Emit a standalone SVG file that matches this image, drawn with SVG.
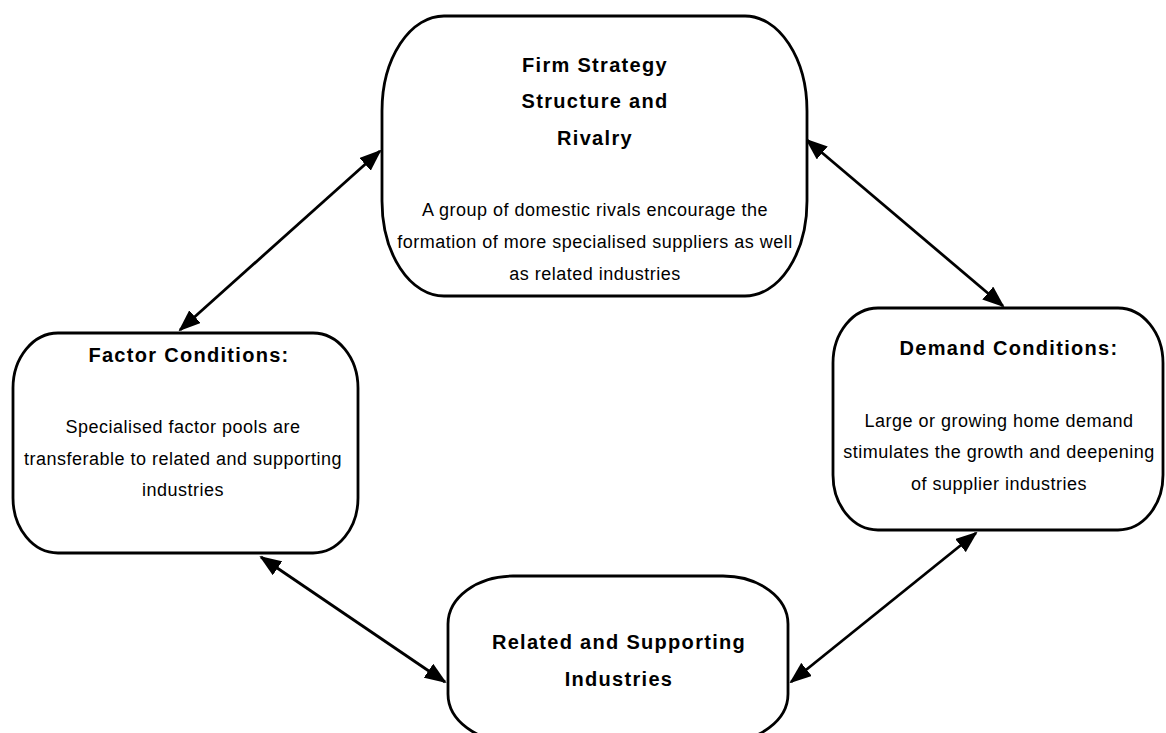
<svg xmlns="http://www.w3.org/2000/svg" width="1166" height="733" viewBox="0 0 1166 733">
  <style>
    .box { fill: #ffffff; stroke: #000000; stroke-width: 2.8; }
    .title { font-family: "Liberation Sans", Arial, sans-serif; font-weight: bold; font-size: 20px; letter-spacing: 1.3px; fill: #000000; text-anchor: middle; }
    .body { font-family: "Liberation Sans", Arial, sans-serif; font-size: 18px; letter-spacing: 0.5px; fill: #000000; text-anchor: middle; }
    .conn { stroke: #000000; stroke-width: 2.8; fill: none; marker-start: url(#arrow); marker-end: url(#arrow); }
  </style>
  <defs>
    <marker id="arrow" markerUnits="userSpaceOnUse" markerWidth="22" markerHeight="17" refX="20" refY="8.5" orient="auto-start-reverse" viewBox="0 0 22 17">
      <path d="M0,0 L22,8.5 L0,17 Z" fill="#000000"/>
    </marker>
  </defs>
  <rect width="1166" height="733" fill="#ffffff"/>

  <g id="connectors">
    <line class="conn" x1="180" y1="330" x2="380" y2="151"/>
    <line class="conn" x1="807" y1="140" x2="1003" y2="306"/>
    <line class="conn" x1="261" y1="557" x2="445" y2="682"/>
    <line class="conn" x1="976" y1="533" x2="791" y2="682"/>
  </g>

  <g id="node-firm">
    <rect class="box" x="382" y="16" width="425" height="280" rx="62" ry="95"/>
    <text class="title" x="595" y="72">Firm Strategy</text>
    <text class="title" x="595" y="108">Structure and</text>
    <text class="title" x="595" y="145">Rivalry</text>
    <text class="body" x="595" y="216">A group of domestic rivals encourage the</text>
    <text class="body" x="595" y="248">formation of more specialised suppliers as well</text>
    <text class="body" x="595" y="280">as related industries</text>
  </g>

  <g id="node-factor">
    <rect class="box" x="13" y="333" width="345" height="220" rx="45" ry="55"/>
    <text class="title" x="189" y="362">Factor Conditions:</text>
    <text class="body" x="183" y="433">Specialised factor pools are</text>
    <text class="body" x="183" y="465">transferable to related and supporting</text>
    <text class="body" x="183" y="496">industries</text>
  </g>

  <g id="node-demand">
    <rect class="box" x="833" y="308" width="330" height="222" rx="45" ry="55"/>
    <text class="title" x="1009" y="355">Demand Conditions:</text>
    <text class="body" x="999" y="427">Large or growing home demand</text>
    <text class="body" x="999" y="458">stimulates the growth and deepening</text>
    <text class="body" x="999" y="490">of supplier industries</text>
  </g>

  <g id="node-related">
    <rect class="box" x="448" y="576" width="340" height="166" rx="65" ry="48"/>
    <text class="title" x="619" y="649">Related and Supporting</text>
    <text class="title" x="619" y="686">Industries</text>
  </g>
</svg>
